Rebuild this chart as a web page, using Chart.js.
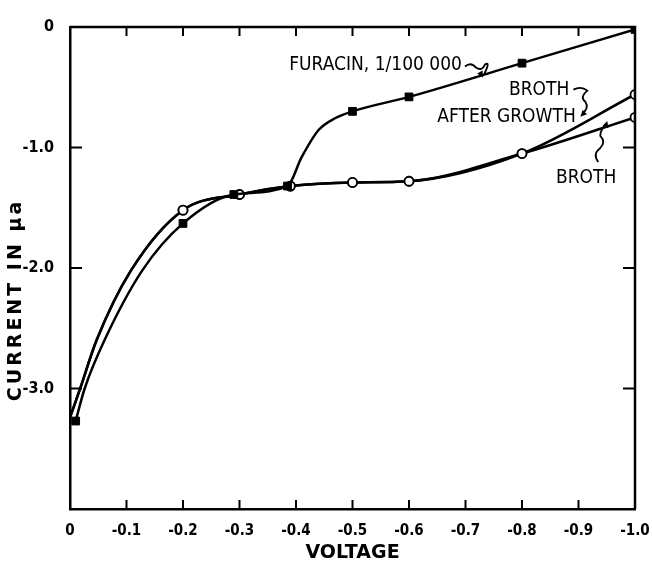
<!DOCTYPE html>
<html>
<head>
<meta charset="utf-8">
<script src="https://cdn.jsdelivr.net/npm/chart.js@4.4.1/dist/chart.umd.min.js"></script>
<style>
  html, body { margin: 0; padding: 0; background: #fff; }
  #wrap { width: 652px; height: 568px; }
</style>
</head>
<body>
<div id="wrap"><canvas id="polChart" width="652" height="568"></canvas></div>
<script>
const FONT = "'DejaVu Sans Condensed', 'Liberation Sans Narrow', 'DejaVu Sans', sans-serif";
const WIDE = "'DejaVu Sans', sans-serif";

// values (voltage in V, current in microamps)
const furacinVolts = [-0.01, -0.026, -0.061, -0.128, -0.2, -0.29, -0.385, -0.41, -0.44, -0.47, -0.5, -0.6, -0.8, -1.0];
const furacinCurrent = [-3.27, -3.0, -2.6, -2.02, -1.63, -1.39, -1.32, -1.08, -0.855, -0.755, -0.70, -0.58, -0.30, -0.02];
const furacinMarked = [1, 0, 0, 0, 1, 1, 1, 0, 0, 0, 1, 1, 1, 1];

const brothVolts = [0, -0.018, -0.047, -0.108, -0.2, -0.3, -0.39, -0.5, -0.6, -0.8, -1.0];
const brothCurrent = [-3.24, -3.0, -2.6, -2.02, -1.52, -1.39, -1.32, -1.29, -1.28, -1.05, -0.75];
const afterGrowthCurrent = [-3.24, -3.0, -2.6, -2.02, -1.52, -1.39, -1.32, -1.29, -1.28, -1.05, -0.56];
const brothMarked = [0, 0, 0, 0, 1, 1, 1, 1, 1, 1, 1];

const xTicks = [0, -0.1, -0.2, -0.3, -0.4, -0.5, -0.6, -0.7, -0.8, -0.9, -1.0];
const yTicks = [0, -1, -2, -3];

function pts(xs, ys) {
    return xs.map((x, i) => ({ x: x, y: ys[i] }));
}

// inward ticks on all four sides + closing frame
const framePlugin = {
    id: 'frame',
    afterDraw(chart) {
        const { ctx, chartArea: a, scales } = chart;
        ctx.save();
        ctx.strokeStyle = '#000';
        ctx.lineWidth = 2.5;
        ctx.beginPath();
        ctx.moveTo(a.left, a.top);
        ctx.lineTo(a.right, a.top);
        ctx.lineTo(a.right, a.bottom);
        ctx.stroke();
        ctx.lineWidth = 2;
        ctx.beginPath();
        xTicks.forEach(v => {
            if (v === 0 || v === -1.0) return;
            const px = scales.x.getPixelForValue(v);
            ctx.moveTo(px, a.bottom); ctx.lineTo(px, a.bottom - 9);
            ctx.moveTo(px, a.top); ctx.lineTo(px, a.top + 9);
        });
        yTicks.forEach(v => {
            if (v === 0) return;
            const py = scales.y.getPixelForValue(v);
            ctx.moveTo(a.left, py); ctx.lineTo(a.left + 12, py);
            ctx.moveTo(a.right, py); ctx.lineTo(a.right - 12, py);
        });
        ctx.stroke();

        // y axis title
        ctx.fillStyle = '#000';
        ctx.font = 'bold 19px ' + WIDE;
        ctx.letterSpacing = '3px';
        ctx.translate(16, 300);
        ctx.rotate(-Math.PI / 2);
        ctx.textAlign = 'center';
        ctx.textBaseline = 'middle';
        ctx.fillText('CURRENT IN \u03bca', 0, 0);
        ctx.restore();
    }
};

// curve labels with squiggly pointers
const labelPlugin = {
    id: 'curveLabels',
    afterDatasetsDraw(chart) {
        const { ctx, scales } = chart;
        const X = v => scales.x.getPixelForValue(v);
        const Y = v => scales.y.getPixelForValue(v);
        ctx.save();
        ctx.fillStyle = '#000';
        ctx.strokeStyle = '#000';
        ctx.lineWidth = 1.8;
        ctx.font = '19px ' + FONT;
        ctx.textBaseline = 'middle';
        ctx.textAlign = 'left';

        const furText = 'FURACIN, 1/100 000';
        ctx.fillText(furText, X(-0.388), Y(-0.32));
        const furEnd = X(-0.388) + ctx.measureText(furText).width;
        const brothTop = 'BROTH';
        ctx.fillText(brothTop, X(-0.777), Y(-0.52));
        const brothEnd = X(-0.777) + ctx.measureText(brothTop).width;
        ctx.fillText('AFTER GROWTH', X(-0.65), Y(-0.75));
        ctx.fillText('BROTH', X(-0.86), Y(-1.25));

        function squiggle(points, tip) {
            ctx.beginPath();
            ctx.moveTo(points[0][0], points[0][1]);
            for (let i = 1; i < points.length; i += 2) {
                ctx.quadraticCurveTo(points[i][0], points[i][1], points[i + 1][0], points[i + 1][1]);
            }
            ctx.stroke();
            const [tx, ty, ang] = tip;
            ctx.beginPath();
            ctx.moveTo(tx, ty);
            ctx.lineTo(tx + 7 * Math.cos(ang - 0.45), ty + 7 * Math.sin(ang - 0.45));
            ctx.lineTo(tx + 7 * Math.cos(ang + 0.45), ty + 7 * Math.sin(ang + 0.45));
            ctx.closePath();
            ctx.fill();
        }
        // furacin pointer
        let x0 = furEnd + 3, y0 = Y(-0.32) + 1;
        squiggle([[x0, y0], [x0 + 6, y0 - 5], [x0 + 11, y0 + 1], [x0 + 17, y0 + 5], [x0 + 20, y0 - 2],
                  [x0 + 26, y0 - 6], [x0 + 19, y0 + 8]], [x0 + 18, y0 + 11, -Math.PI / 2 - 0.5]);
        // broth after growth pointer
        x0 = brothEnd + 4; y0 = Y(-0.52);
        squiggle([[x0, y0], [x0 + 8, y0 - 4], [x0 + 14, y0 + 1], [x0 + 6, y0 + 8], [x0 + 12, y0 + 12],
                  [x0 + 16, y0 + 18], [x0 + 9, y0 + 24]], [x0 + 7, y0 + 27, -Math.PI / 4]);
        // broth pointer
        x0 = X(-0.935); y0 = Y(-1.12);
        squiggle([[x0, y0], [x0 - 6, y0 - 8], [x0 + 2, y0 - 14], [x0 + 8, y0 - 20], [x0 + 2, y0 - 26],
                  [x0 + 2, y0 - 32], [x0 + 8, y0 - 38]], [x0 + 9, y0 - 41, Math.PI / 2 + 0.3]);
        ctx.restore();
    }
};

const lineStyle = {
    borderColor: '#000',
    borderWidth: 2.5,
    cubicInterpolationMode: 'monotone',
    fill: false
};

new Chart(document.getElementById('polChart'), {
    type: 'line',
    data: {
        datasets: [
            Object.assign({
                label: 'Furacin, 1/100 000',
                data: pts(furacinVolts, furacinCurrent),
                pointStyle: 'rect',
                pointRadius: furacinMarked.map(m => m ? 5.5 : 0),
                pointBackgroundColor: '#000',
                pointBorderColor: '#000',
                pointBorderWidth: 1
            }, lineStyle),
            Object.assign({
                label: 'Broth',
                data: pts(brothVolts, brothCurrent),
                pointStyle: 'circle',
                pointRadius: brothMarked.map(m => m ? 4.5 : 0),
                pointBackgroundColor: '#fff',
                pointBorderColor: '#000',
                pointBorderWidth: 1.8
            }, lineStyle),
            Object.assign({
                label: 'Broth after growth',
                data: pts(brothVolts, afterGrowthCurrent),
                pointStyle: 'circle',
                pointRadius: brothMarked.map(m => m ? 4.5 : 0),
                pointBackgroundColor: '#fff',
                pointBorderColor: '#000',
                pointBorderWidth: 1.8
            }, lineStyle)
        ]
    },
    options: {
        responsive: false,
        animation: false,
        layout: { padding: { top: 27, right: 17, left: 0, bottom: 0 } },
        plugins: {
            legend: { display: false },
            tooltip: { enabled: false }
        },
        scales: {
            x: {
                type: 'linear',
                reverse: true,
                min: -1.0,
                max: 0,
                afterBuildTicks: s => { s.ticks = xTicks.map(v => ({ value: v })); },
                afterFit: s => { s.height = 59; s.paddingLeft = 0; s.paddingRight = 0; },
                grid: { display: false },
                border: { display: true, color: '#000', width: 2.5 },
                ticks: {
                    color: '#000',
                    font: { family: FONT, size: 15, weight: 'bold' },
                    padding: 5,
                    maxRotation: 0,
                    callback: v => v === 0 ? '0' : v.toFixed(1)
                },
                title: {
                    display: true,
                    text: 'VOLTAGE',
                    color: '#000',
                    font: { family: WIDE, size: 19, weight: 'bold' },
                    padding: { top: 0 }
                }
            },
            y: {
                type: 'linear',
                min: -4,
                max: 0,
                afterBuildTicks: s => { s.ticks = yTicks.map(v => ({ value: v })); },
                afterFit: s => { s.width = 70; },
                grid: { display: false },
                border: { display: true, color: '#000', width: 2.5 },
                ticks: {
                    color: '#000',
                    font: { family: FONT, size: 16, weight: 'bold' },
                    padding: 8,
                    callback: v => v === 0 ? '0' : v.toFixed(1)
                }
            }
        }
    },
    plugins: [framePlugin, labelPlugin]
});
</script>
</body>
</html>
